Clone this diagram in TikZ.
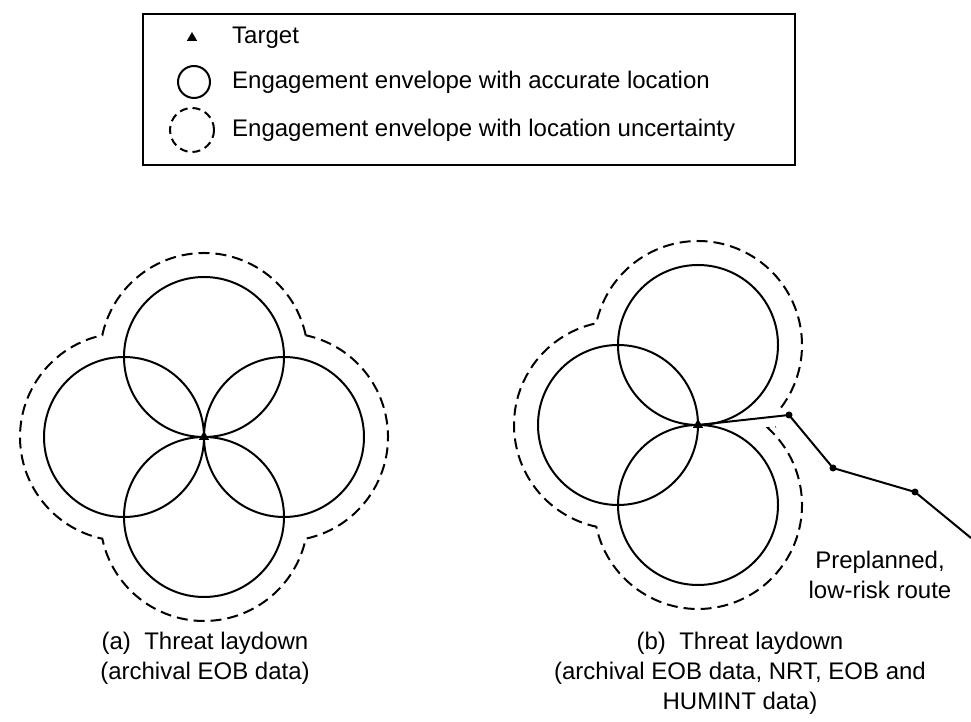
\documentclass[tikz,border=0pt]{standalone}
\usepackage{fontspec}
\setmainfont{Liberation Sans}
\usetikzlibrary{shapes.geometric}

\tikzstyle{env}=[line width=2pt]
\tikzstyle{unc}=[line width=2pt, dash pattern=on 11pt off 6pt]
\tikzstyle{tgt}=[regular polygon, regular polygon sides=3, fill, inner sep=0pt, minimum size=12pt]
\tikzstyle{wpt}=[circle, fill, inner sep=0pt, minimum size=7pt]
\tikzstyle{txt}=[font=\fontsize{24}{30}\selectfont, inner sep=0pt]

\begin{document}
\begin{tikzpicture}[x=1pt,y=1pt]
\useasboundingbox (0,0) rectangle (971,722);
% Legend
\draw[line width=2.2pt] (143,557) rectangle (795,708);
\draw (192,684) node[tgt](keytgt){};
\draw (194,640) node[env, draw, circle, minimum size=32pt](keyenv){};
\draw (192,592) node[unc, draw, circle, minimum size=44pt, dash pattern=on 8pt off 5pt](keyunc){};
\draw (232,684) node[txt, anchor=west](keytxt1){Target};
\draw (232,640) node[txt, anchor=west](keytxt2){Engagement envelope with accurate location};
\draw (232,592) node[txt, anchor=west](keytxt3){Engagement envelope with location uncertainty};
%
% (a) archival data only
\coordinate (ta) at (204,285);
\foreach \a in {0,90,180,270}
  \draw[env] (ta) ++(\a:80) circle[radius=80];
\draw[unc] (ta) ++(101.71,101.71)
  arc[start angle=12.05, end angle=167.95, radius=104]
  arc[start angle=102.05, end angle=257.95, radius=104]
  arc[start angle=192.05, end angle=347.95, radius=104]
  arc[start angle=282.05, end angle=437.95, radius=104] -- cycle;
\draw (ta) node[tgt](tgta){};
\draw (205,90) node[txt, align=center, anchor=north](capa)
  {(a)\ \ Threat laydown\\(archival EOB data)};
%
% (b) with NRT data: one lobe left open for the route
\coordinate (tb) at (698,297);
\foreach \a in {90,180,270}
  \draw[env] (tb) ++(\a:80) circle[radius=80];
\draw[unc] (tb) ++(0,80) ++(-37:104)
  arc[start angle=-37, end angle=167.95, radius=104]
  arc[start angle=102.05, end angle=257.95, radius=104]
  arc[start angle=192.05, end angle=407.7, radius=104] -- ++(8,1);
\draw (tb) node[tgt](tgtb){};
\draw (740,90) node[txt, align=center, anchor=north](capb)
  {(b)\ \ Threat laydown\\(archival EOB data, NRT, EOB and\\HUMINT data)};
%
% Route
\coordinate (w1) at (789,307);
\coordinate (w2) at (833,254);
\coordinate (w3) at (915,230);
\coordinate (wend) at (971,184);
\draw[env] (tb) -- (w1) -- (w2) -- (w3) -- (wend);
\foreach \p in {w1,w2,w3} \draw (\p) node[wpt](dot\p){};
\draw (880,171) node[txt, align=center, anchor=north](routelbl)
  {Preplanned,\\low-risk route};
\end{tikzpicture}
\end{document}
